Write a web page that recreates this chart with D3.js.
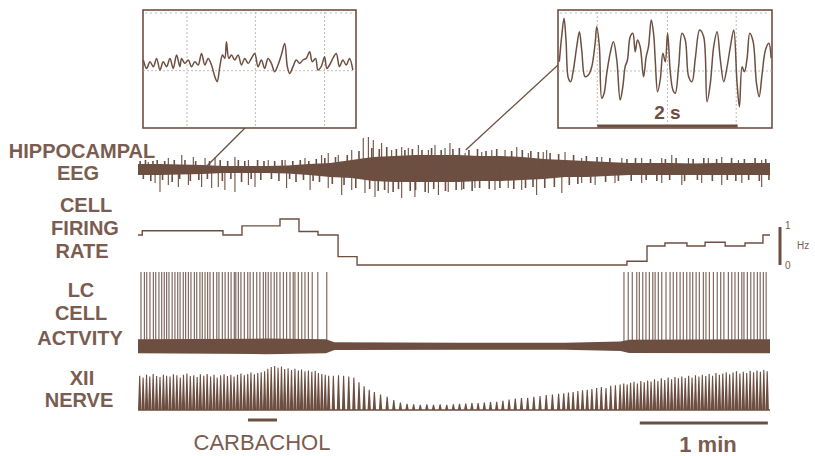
<!DOCTYPE html>
<html><head><meta charset="utf-8">
<script src="https://cdn.jsdelivr.net/npm/d3@7"></script>
<style>body{margin:0;background:#fff} svg{display:block}</style>
</head><body><svg id="c" width="815" height="456"></svg>
<script>
// ---------------- DATA ----------------
const rowLabels = [
  {lines:["HIPPOCAMPAL","EEG"], cx:[82,78], base:[158,180]},
  {lines:["CELL","FIRING","RATE"], cx:[86,85,82], base:[212,235,258]},
  {lines:["LC","CELL","ACTVITY"], cx:[81,81,80], base:[297,320,345]},
  {lines:["XII","NERVE"], cx:[82,79], base:[385,407]}
];
const timeDomain = [0, 296];                 // seconds
// cell firing rate steps: [start s, end s, Hz]
const firingRate = [[0,2,0.79],[2,39.8,0.90],[39.8,48.7,0.79],[48.7,66.5,1.03],[66.5,75.4,1.21],
  [75.4,84.3,0.88],[84.3,93.7,0.79],[93.7,102.6,0.22],[102.6,229,0],[229,238.4,0.10],
  [238.4,246.8,0.50],[246.8,257.1,0.58],[257.1,265.6,0.50],[265.6,275,0.60],[275,284.3,0.50],
  [284.3,292.7,0.58],[292.7,296,0.79]];
const hzTicks = [0, 1];
// EEG core band envelope: [s, upper, lower]
const eegCore = [[0,0.5,-0.6],[10,0.5,-0.6],[20,0.45,-0.55],[30,0.4,-0.5],[40,0.3,-0.4],[50,0.3,-0.4],
  [60,0.3,-0.4],[70,0.35,-0.45],[80,0.5,-0.6],[90,0.6,-0.8],[100,0.9,-0.9],[110,1.2,-1.2],[120,1.3,-1.3],
  [130,1.4,-1.3],[140,1.4,-1.3],[150,1.4,-1.3],[160,1.3,-1.2],[170,1.3,-1.2],[180,1.2,-1.1],[190,1.0,-1.0],
  [200,0.9,-0.8],[210,0.8,-0.8],[220,0.7,-0.7],[230,0.6,-0.6],[240,0.6,-0.6],[250,0.6,-0.6],[260,0.55,-0.6],
  [270,0.6,-0.6],[280,0.6,-0.6],[290,0.6,-0.6],[296,0.6,-0.6]];
// EEG large deflections: [s, amplitude]
const eegSpikes = [[4.8,0.7],[14.2,1.1],[20.5,1.4],[25.9,1.2],[31.4,1.1],[36.1,1.2],[45.4,1.2],[51.7,0.9],
  [61.0,0.9],[68.9,0.9],[78.2,1.1],[86.0,1.4],[89.1,1.6],[93.8,1.4],[100.1,1.9],[105.5,3.1],[107.9,3.2],
  [110.2,2.9],[114.1,2.6],[118.8,1.9],[123.5,2.2],[126.6,2.1],[131.3,2.4],[136.0,1.9],[139.1,2.4],
  [143.8,2.1],[146.1,2.6],[153.2,1.6],[161.0,1.7],[165.7,1.9],[171.9,1.9],[177.4,2.2],[182.8,1.6],
  [189.8,1.7],[191.4,1.9],[200.0,1.7],[207.8,1.1],[217.2,1.2],[226.6,1.1],[235.9,1.1],[245.3,1.1],
  [250.0,1.4],[257.8,1.1],[267.1,1.1],[273.4,1.2],[281.2,0.9],[292.1,0.9],
  [8.0,-1.4],[10.3,-2.3],[14.2,-1.6],[18.9,-1.8],[23.6,-1.6],[29.8,-1.8],[34.5,-1.9],[37.6,-1.8],
  [40.7,-2.1],[45.4,-2.3],[51.7,-1.6],[54.8,-1.8],[69.6,-1.9],[80.6,-2.1],[89.1,-1.9],[95.4,-2.6],
  [100.1,-2.1],[106.3,-2.4],[111.0,-2.8],[117.2,-2.4],[123.5,-2.9],[129.7,-2.8],[136.0,-2.4],
  [140.7,-2.6],[145.3,-2.3],[151.6,-2.1],[157.8,-1.9],[167.2,-2.1],[173.4,-1.9],[179.7,-2.1],
  [186.7,-2.6],[198.5,-2.4],[207.8,-1.4],[214.1,-1.6],[223.4,-1.4],[235.9,-1.4],[245.3,-1.4],
  [254.7,-1.6],[264.0,-1.4],[273.4,-1.6],[282.8,-1.4],[292.1,-1.8]];
// EEG smaller deflections around the core: [s, amplitude]
const eegMinor = [[1,0.8],[2.5,-1.0],[3.5,0.9],[6,-1.2],[7,0.8],[9,0.9],[11.5,-1.1],[12.5,0.8],[16,-1.3],
  [17,0.9],[19.5,-1.0],[22,0.9],[24.5,-1.2],[27,0.8],[28.5,-1.1],[32.5,-1.0],[33.5,0.8],[38.5,0.9],
  [39.5,-1.2],[42,0.8],[43.5,-1.0],[47,0.9],[48.5,-1.3],[50,0.8],[53,-1.0],[56,0.9],[57.5,-1.1],[59,0.8],
  [62.5,-1.0],[64,0.8],[66,-1.2],[67.5,0.9],[71,-1.0],[72.5,0.8],[74,-1.3],[76,0.9],[77.5,-1.1],[80,0.8],
  [82,-1.2],[83.5,1.0],[85,-1.3],[87.5,1.1],[91,-1.5],[92.5,1.2],[96.5,-1.6],[98,1.4],
  [102,-1.9],[103.5,1.8],[108.5,-2.0],[109.5,2.1],[112.5,-2.2],[113,2.0],[115.5,-2.1],[116.5,2.2],
  [119.5,-2.3],[121,2.0],[122,-2.0],[125,1.9],[127.5,-2.2],[128.5,2.0],[130,-2.1],[133,1.9],[134.5,-2.3],
  [137.5,2.1],[138.5,-2.0],[142,1.9],[144,-2.2],[147.5,2.0],[149,-2.1],[150.5,2.1],[152.5,-2.0],[155,1.9],
  [156.5,-2.2],[159,2.0],[160,-1.9],[163,1.8],[164.5,-2.0],[168,2.0],[169.5,-1.9],[175,1.8],[176,-2.0],
  [180,1.9],[181.5,-1.9],[184,1.8],[185,-1.8],[187.5,1.7],[190.5,-1.9],[193,1.6],[195,-1.8],[197,1.5],
  [202,-1.6],[204,1.4],[206,-1.5],[210,1.3],[212,-1.4],
  [215,1.2],[219,-1.3],[221,1.1],[225,-1.2],[229,1.0],[231,-1.2],[233,1.1],[238,-1.1],[240,1.0],[243,-1.2],
  [247,1.0],[249,-1.1],[252,1.1],[256,-1.2],[260,1.0],[262,-1.1],[265,1.1],[269,-1.2],[271,1.0],[276,-1.1],
  [278,1.1],[280,-1.2],[284,1.0],[286,-1.1],[289,1.1],[291,-1.2],[294,1.0],[295.5,-1.1]];
// LC unit spikes (s)
const lcSpikeTimes = [1.4,3.0,4.1,5.6,7.2,8.3,9.8,11.1,12.3,13.4,14.5,16.0,17.3,18.6,19.7,21.2,22.3,23.6,
  24.8,26.4,27.5,29.0,30.1,31.4,32.6,33.7,35.3,36.9,37.9,39.5,40.8,42.3,43.6,45.1,45.8,47.0,48.2,49.8,
  51.4,52.5,54.0,55.6,57.1,58.7,59.8,61.0,62.3,63.8,65.0,66.5,68.1,69.6,71.2,72.7,73.5,75.1,76.7,78.2,
  79.8,81.6,84.2,88.4,
  227.6,229.6,231.5,233.6,234.8,236.4,237.9,239.5,241.1,242.2,243.7,245.3,247.3,249.2,250.7,252.3,
  253.9,255.4,257.0,258.5,259.8,261.4,262.9,264.8,266.0,267.6,269.5,271.3,272.9,274.4,276.5,278.1,
  279.6,281.2,282.8,283.8,285.4,287.0,288.5,290.1,291.4,292.9,294.2];
// LC baseline noise half-width: [s, half-width]
const lcNoise = [[0,0.09],[60,0.1],[88,0.09],[92,0.05],[150,0.045],[200,0.045],[226,0.06],[230,0.085],[296,0.09]];
// XII nerve inspiratory bursts: [s, amplitude]
const xiiBursts = [[0.8,0.78],[2.4,0.74],[4.0,0.80],[5.5,0.76],[7.1,0.82],[8.7,0.77],[10.3,0.75],[11.9,0.80],
  [13.4,0.78],[15.0,0.76],[16.6,0.81],[18.2,0.79],[19.8,0.74],[21.3,0.80],[22.9,0.83],[24.5,0.77],[26.1,0.79],
  [27.7,0.75],[29.2,0.81],[30.8,0.78],[32.4,0.82],[34.0,0.76],[35.6,0.80],[37.1,0.74],[38.7,0.79],[40.3,0.81],
  [41.9,0.77],[43.5,0.80],[45.0,0.76],[46.6,0.80],[48.2,0.83],[49.8,0.79],[51.4,0.82],[52.9,0.85],[54.5,0.81],
  [56.1,0.84],[57.7,0.86],[59.3,0.88],[60.8,0.94],[62.4,0.98],[64.0,1.00],[65.6,0.96],[67.2,0.99],[68.7,0.93],
  [70.3,0.95],[71.9,0.91],[73.5,0.94],[75.1,0.90],[76.6,0.92],[78.2,0.88],[79.8,0.90],[81.4,0.87],[83.0,0.89],
  [84.5,0.84],[86.1,0.82],[87.7,0.80],[89.3,0.78],
  [91.5,0.78],[93.9,0.79],[96.3,0.78],[98.7,0.76],[101.1,0.74],[103.5,0.63],[105.9,0.54],[108.3,0.46],[110.7,0.41],
  [113.6,0.35],[116.7,0.30],[119.8,0.23],[122.9,0.17],[126.0,0.14],[129.1,0.13],[132.2,0.12],[135.3,0.13],
  [138.4,0.12],[141.5,0.13],[144.6,0.12],[147.7,0.13],[150.6,0.14],[153.5,0.15],[156.4,0.16],[159.3,0.16],
  [162.2,0.17],[165.1,0.18],[168.0,0.19],[170.9,0.21],[173.8,0.24],[176.7,0.26],[179.6,0.27],[182.5,0.28],
  [185.4,0.30],[188.3,0.32],[191.2,0.34],[194.1,0.35],[197.0,0.37],
  [199.4,0.38],[201.6,0.40],[203.8,0.41],[206.0,0.43],[208.2,0.45],[210.4,0.46],[212.6,0.48],[214.8,0.50],
  [217.0,0.52],[219.2,0.50],[221.4,0.55],[223.6,0.56],[225.8,0.58],
  [227.5,0.60],[229.1,0.58],[230.7,0.62],[232.3,0.64],[233.9,0.60],[235.5,0.66],[237.1,0.63],[238.7,0.67],
  [240.3,0.65],[241.9,0.70],[243.5,0.66],[245.1,0.72],[246.7,0.68],[248.3,0.74],[249.9,0.70],[251.5,0.75],
  [253.1,0.72],[254.7,0.76],[256.3,0.73],[257.9,0.78],[259.5,0.74],[261.1,0.79],[262.7,0.76],[264.3,0.80],
  [265.9,0.77],[267.5,0.82],[269.1,0.78],[270.7,0.84],[272.3,0.80],[273.9,0.83],[275.5,0.86],[277.1,0.81],
  [278.7,0.85],[280.3,0.88],[281.9,0.83],[283.5,0.87],[285.1,0.84],[286.7,0.89],[288.3,0.86],[289.9,0.90],
  [291.5,0.87],[293.1,0.91],[294.7,0.88]];
const carbachol = [51.5, 65.1];
const minuteBar = [235, 295];
// Inset EEG samples: [s, amplitude]
const insetA = [[0.005,1.07],[0.052,0.23],[0.100,0.9],[0.148,0.4],[0.195,1.23],[0.243,0.07],[0.29,0.9],
  [0.338,0.4],[0.386,1.23],[0.433,0.23],[0.481,1.57],[0.529,0.4],[0.552,1.23],[0.60,0.73],[0.648,1.07],
  [0.695,0.4],[0.743,0.9],[0.79,0.57],[0.838,1.73],[0.886,0.57],[0.933,1.23],[0.981,0.57],[1.029,-0.6],
  [1.062,-1.1],[1.10,0.4],[1.138,1.57],[1.171,1.23],[1.195,2.9],[1.229,1.23],[1.267,1.57],[1.314,1.07],
  [1.362,1.57],[1.41,0.57],[1.457,1.23],[1.505,0.73],[1.552,1.23],[1.60,1.73],[1.648,0.4],[1.695,1.07],
  [1.743,0.23],[1.79,1.23],[1.838,0.73],[1.886,-0.1],[1.933,0.57],[1.981,1.57],[2.029,2.73],[2.067,0.4],
  [2.10,-0.27],[2.148,0.4],[2.195,1.07],[2.243,0.73],[2.29,1.07],[2.338,1.23],[2.386,1.9],[2.424,0.9],
  [2.471,1.23],[2.505,0.07],[2.552,0.4],[2.60,1.4],[2.633,0.23],[2.671,0.57],[2.719,1.23],[2.767,1.73],
  [2.814,0.4],[2.862,1.07],[2.91,0.57],[2.957,1.23],[3.005,0.07]];
const insetB = [[0.019,0.93],[0.052,3.43],[0.086,5.27],[0.114,3.1],[0.148,-0.73],[0.181,-1.07],[0.219,0.1],
  [0.267,2.43],[0.305,3.93],[0.338,2.1],[0.386,-0.57],[0.433,-0.4],[0.481,0.43],[0.529,2.77],[0.552,4.43],
  [0.59,2.43],[0.624,-2.73],[0.657,-2.23],[0.695,-0.23],[0.743,1.77],[0.79,2.93],[0.838,1.1],[0.886,-2.9],
  [0.924,-1.57],[0.957,0.43],[0.99,1.1],[1.029,3.43],[1.067,3.77],[1.10,1.93],[1.133,3.1],[1.171,2.43],
  [1.219,-0.57],[1.257,1.43],[1.29,2.43],[1.329,5.1],[1.362,3.77],[1.386,1.1],[1.419,-2.07],[1.457,-0.9],
  [1.495,1.77],[1.529,0.93],[1.562,3.77],[1.60,-0.07],[1.638,-1.9],[1.671,-2.23],[1.719,0.43],[1.767,3.77],
  [1.814,3.1],[1.862,-0.57],[1.91,-1.07],[1.957,1.27],[2.019,4.1],[2.076,3.43],[2.124,-3.07],[2.171,-1.23],
  [2.219,2.43],[2.267,3.93],[2.314,1.1],[2.362,-1.07],[2.41,0.43],[2.457,2.43],[2.505,4.1],[2.552,-1.23],
  [2.586,-3.57],[2.624,0.43],[2.657,-0.07],[2.695,1.27],[2.733,3.77],[2.781,2.93],[2.829,-1.23],
  [2.867,-2.57],[2.91,-0.23],[2.957,2.1],[3.005,2.77],[3.038,1.27]];
const insetGridA = [0.63, 1.61, 2.6];
const insetGridB = [0.56, 1.56, 2.54];
const insetScale = [0.56, 2.56];   // "2 s"
// where each inset was taken from on the EEG trace: [s, amplitude]
const insetSourceA = [30.4, -0.1];
const insetSourceB = [153.5, 1.9];

// ---------------- DRAWING ----------------
const ink = "#6d4f42", textInk = "#7a5c50";
const svg = d3.select("#c");
const font = "'Liberation Sans', Arial, Helvetica, sans-serif";

const x = d3.scaleLinear().domain(timeDomain).range([138, 770]);
const yEEG = d3.scaleLinear().domain([-3.2, 3.2]).range([201, 137]);
const yRate = d3.scaleLinear().domain([0, 1]).range([265, 227]);
const yLC = d3.scaleLinear().domain([0, 1]).range([346, 272]);
const yXII = d3.scaleLinear().domain([0, 1]).range([410, 366]);

// row labels
rowLabels.forEach(r => r.lines.forEach((t, i) => {
  svg.append("text").attr("x", r.cx[i]).attr("y", r.base[i]).attr("text-anchor", "middle")
    .attr("font-family", font).attr("font-weight", "bold").attr("font-size", 20)
    .attr("fill", textInk).text(t);
}));

// EEG core band
svg.append("path").datum(eegCore)
  .attr("d", d3.area().x(d => x(d[0])).y0(d => yEEG(d[2])).y1(d => yEEG(d[1])))
  .attr("fill", ink);
svg.append("g").selectAll("line").data(eegMinor).join("line")
  .attr("x1", d => x(d[0])).attr("x2", d => x(d[0]))
  .attr("y1", yEEG(0)).attr("y2", d => yEEG(d[1]))
  .attr("stroke", ink).attr("stroke-width", 1.6);
svg.append("g").selectAll("line").data(eegSpikes).join("line")
  .attr("x1", d => x(d[0])).attr("x2", d => x(d[0]))
  .attr("y1", yEEG(0)).attr("y2", d => yEEG(d[1]))
  .attr("stroke", ink).attr("stroke-width", 1.1);

// firing rate
const ratePts = [];
firingRate.forEach(s => { ratePts.push([s[0], s[2]]); ratePts.push([s[1], s[2]]); });
svg.append("path").datum(ratePts)
  .attr("d", d3.line().x(d => x(d[0])).y(d => yRate(d[1])))
  .attr("fill", "none").attr("stroke", ink).attr("stroke-width", 1.4);
// Hz scale
svg.append("line").attr("x1", 780).attr("x2", 780).attr("y1", yRate(1)).attr("y2", yRate(0))
  .attr("stroke", ink).attr("stroke-width", 3);
svg.append("g").selectAll("text").data(hzTicks).join("text")
  .attr("x", 785).attr("y", d => yRate(d) + (d ? 2 : 4)).attr("font-family", font).attr("font-size", 10)
  .attr("fill", textInk).text(d => d);
svg.append("text").attr("x", 797).attr("y", yRate(0.5) + 3).attr("font-family", font).attr("font-size", 10)
  .attr("fill", textInk).text("Hz");

// LC activity
svg.append("g").selectAll("line").data(lcSpikeTimes).join("line")
  .attr("x1", d => x(d)).attr("x2", d => x(d)).attr("y1", yLC(0)).attr("y2", yLC(1))
  .attr("stroke", ink).attr("stroke-width", 1.2).attr("stroke-opacity", 0.85);
svg.append("path").datum(lcNoise)
  .attr("d", d3.area().x(d => x(d[0])).y0(d => yLC(-d[1] * 1.1)).y1(d => yLC(d[1])))
  .attr("fill", ink);

// XII nerve: each burst drawn as a narrow spindle on the baseline
svg.append("line").attr("x1", x(0)).attr("x2", x(296)).attr("y1", yXII(0)).attr("y2", yXII(0))
  .attr("stroke", ink).attr("stroke-width", 1.5);
svg.append("g").selectAll("path").data(xiiBursts).join("path")
  .attr("d", d => {
    const cx = x(d[0]), b = yXII(0), t = yXII(d[1]);
    return `M${cx - 1.7},${b} L${cx - 0.55},${t} L${cx + 0.55},${t} L${cx + 1.7},${b} Z`;
  })
  .attr("fill", ink);

// carbachol + minute bars
svg.append("line").attr("x1", x(carbachol[0])).attr("x2", x(carbachol[1])).attr("y1", 420).attr("y2", 420)
  .attr("stroke", ink).attr("stroke-width", 3);
svg.append("text").attr("x", 262).attr("y", 450).attr("text-anchor", "middle").attr("font-family", font)
  .attr("font-size", 22).attr("fill", textInk).text("CARBACHOL");
svg.append("line").attr("x1", x(minuteBar[0])).attr("x2", x(minuteBar[1])).attr("y1", 423).attr("y2", 423)
  .attr("stroke", ink).attr("stroke-width", 3);
svg.append("text").attr("x", 708).attr("y", 452).attr("text-anchor", "middle").attr("font-family", font)
  .attr("font-weight", "bold").attr("font-size", 22).attr("fill", textInk).text("1 min");

// insets
function inset(data, grid, x0, x1, cy, src, anchor, scaleBar) {
  const xi = d3.scaleLinear().domain([0, 3.05]).range([x0, x1]);
  const yi = d3.scaleLinear().domain([-1, 1]).range([cy + 10, cy - 10]);
  const g = svg.append("g");
  g.append("line").attr("x1", anchor[0]).attr("y1", anchor[1]).attr("x2", x(src[0])).attr("y2", yEEG(src[1]))
    .attr("stroke", ink).attr("stroke-width", 1.3);
  g.append("rect").attr("x", x0).attr("y", 10).attr("width", x1 - x0).attr("height", 118)
    .attr("fill", "#fff").attr("stroke", ink).attr("stroke-width", 1.6);
  g.selectAll(".gv").data(grid).join("line").attr("x1", d => xi(d)).attr("x2", d => xi(d))
    .attr("y1", 12).attr("y2", 127).attr("stroke", "#b9aaa2").attr("stroke-width", 0.8).attr("stroke-dasharray", "2,2");
  g.append("line").attr("x1", x0).attr("x2", x1).attr("y1", cy).attr("y2", cy)
    .attr("stroke", "#b9aaa2").attr("stroke-width", 0.8).attr("stroke-dasharray", "2,2");
  g.append("line").attr("x1", x0 + 2).attr("x2", x1 - 2).attr("y1", 13).attr("y2", 13)
    .attr("stroke", "#b9aaa2").attr("stroke-width", 0.8).attr("stroke-dasharray", "2,3");
  g.append("path").datum(data).attr("d", d3.line().x(d => xi(d[0])).y(d => yi(d[1])).curve(d3.curveCatmullRom))
    .attr("fill", "none").attr("stroke", ink).attr("stroke-width", 1.5);
  if (scaleBar) {
    g.append("line").attr("x1", xi(scaleBar[0])).attr("x2", xi(scaleBar[1])).attr("y1", 126).attr("y2", 126)
      .attr("stroke", ink).attr("stroke-width", 3);
    g.append("text").attr("x", xi((scaleBar[0] + scaleBar[1]) / 2)).attr("y", 119).attr("text-anchor", "middle")
      .attr("font-family", font).attr("font-weight", "bold").attr("font-size", 19).attr("fill", ink).text("2 s");
  }
}
inset(insetA, insetGridA, 143, 356, 70.7, insetSourceA, [245, 128], null);
inset(insetB, insetGridB, 558, 772, 71, insetSourceB, [558, 65], insetScale);
</script></body></html>
